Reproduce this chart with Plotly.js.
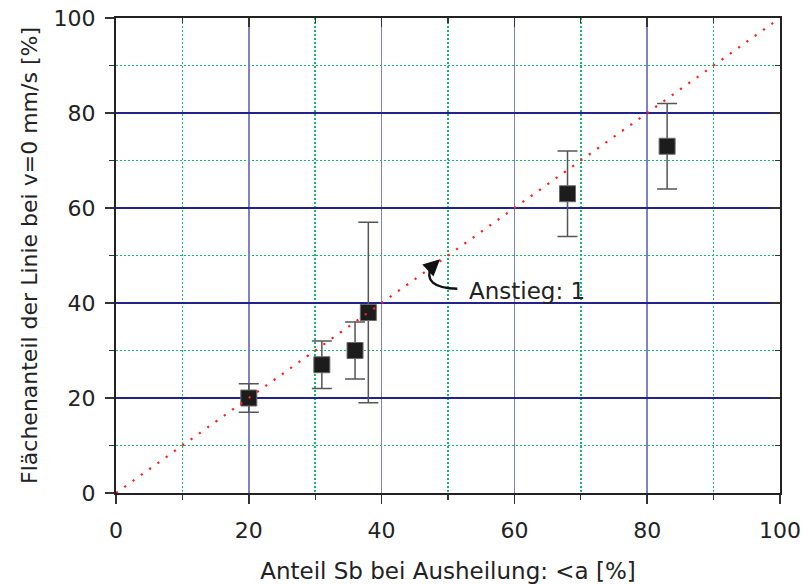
<!DOCTYPE html>
<html>
<head>
<meta charset="utf-8">
<script src="https://cdn.plot.ly/plotly-3.0.1.min.js"></script>
<style>html,body{margin:0;padding:0;background:#fff;}#chart{width:803px;height:584px;}</style>
</head>
<body>
<div id="chart"></div>
<script>
// Data
const sbShare = [20, 31, 36, 38, 68, 83];          // x: Anteil Sb bei Ausheilung [%]
const areaShare = [20, 27, 30, 38, 63, 73];        // y: Flächenanteil der Linie bei v=0 mm/s [%]
const areaErr = [3, 5, 6, 19, 9, 9];               // symmetric error
const slopeX = [0, 100];                           // reference line, slope 1
const slopeY = [0, 100];
const xTitle = 'Anteil Sb bei Ausheilung: &lt;a [%]';
const yTitle = 'Flächenanteil der Linie bei v=0 mm/s [%]';
const noteText = 'Anstieg: 1';

const FONT = 'DejaVu Sans, Liberation Sans, Arial, sans-serif';
const TXT = '#222222';

const traces = [
  {
    x: sbShare, y: areaShare, type: 'scatter', mode: 'markers',
    marker: {symbol: 'square', size: 16, color: '#1c1c1c', line: {color: '#6a6a6a', width: 1}},
    error_y: {type: 'data', array: areaErr, visible: true, color: '#555555', thickness: 1.5, width: 10},
    hoverinfo: 'x+y', showlegend: false
  },
  {
    x: slopeX, y: slopeY, type: 'scatter', mode: 'lines',
    xaxis: 'x2', yaxis: 'y2',
    line: {color: '#ff2020', width: 2.2, dash: '2.2px,8px'},
    hoverinfo: 'skip', showlegend: false
  }
];

const minorGrid = {dtick: 10, tick0: 0, ticks: 'outside', ticklen: 5, tickcolor: '#333', tickwidth: 1.2,
                   showgrid: true, gridcolor: '#12b86c', griddash: '2px,2px', gridwidth: 1.5};

const baseAxis = {
  range: [0, 100], dtick: 20, tick0: 0, zeroline: false, fixedrange: true,
  showline: true, linecolor: '#222', linewidth: 2, mirror: false,
  tickcolor: '#333', tickwidth: 1.5, ticklen: 9,
  tickfont: {family: FONT, size: 22, color: TXT}
};

const layout = {
  width: 803, height: 584,
  margin: {l: 116, r: 23, t: 18, b: 91},
  paper_bgcolor: '#fff', plot_bgcolor: '#fff',
  showlegend: false,
  xaxis: Object.assign({}, baseAxis, {
    ticks: 'outside', showgrid: true, gridcolor: '#8080c8', gridwidth: 1.5,
    ticklabelstandoff: 8,
    minor: minorGrid,
    title: {text: xTitle, font: {family: FONT, size: 23, color: TXT}, standoff: 20}
  }),
  yaxis: Object.assign({}, baseAxis, {
    ticks: 'outside', showgrid: true, gridcolor: '#22228a', gridwidth: 1.1,
    ticklabelstandoff: 5,
    minor: minorGrid,
    title: {text: yTitle, font: {family: FONT, size: 22, color: TXT}, standoff: 10}
  }),
  xaxis2: Object.assign({}, baseAxis, {
    overlaying: 'x', side: 'top', anchor: 'y2', ticks: 'inside', showticklabels: false, showgrid: false,
    minor: {dtick: 10, tick0: 0, ticks: 'inside', ticklen: 5, tickcolor: '#333', tickwidth: 1.2,
            showgrid: false, gridcolor: 'rgba(0,0,0,0)'}
  }),
  yaxis2: Object.assign({}, baseAxis, {
    overlaying: 'y', side: 'right', anchor: 'x2', ticks: 'inside', showticklabels: false, showgrid: false,
    minor: {dtick: 10, tick0: 0, ticks: 'inside', ticklen: 5, tickcolor: '#333', tickwidth: 1.2,
            showgrid: false, gridcolor: 'rgba(0,0,0,0)'}
  }),
  shapes: [
    {type: 'path', xref: 'x', yref: 'y',
     path: 'M 51.4,43.0 Q 46.0,43.2 47.5,47.8',
     line: {color: '#111', width: 2.4}}
  ],
  annotations: [
    {x: 52.9, y: 42.6, xref: 'x', yref: 'y', text: noteText, showarrow: false,
     xanchor: 'left', yanchor: 'middle', font: {family: FONT, size: 23, color: TXT}},
    {x: 48.8, y: 49.2, xref: 'x', yref: 'y', ax: 47.4, ay: 47.4, axref: 'x', ayref: 'y',
     text: '', showarrow: true, arrowhead: 2, arrowsize: 1.5, arrowwidth: 2.2, arrowcolor: '#111'}
  ]
};

Plotly.newPlot('chart', traces, layout, {displayModeBar: false, staticPlot: true});
</script>
</body>
</html>
